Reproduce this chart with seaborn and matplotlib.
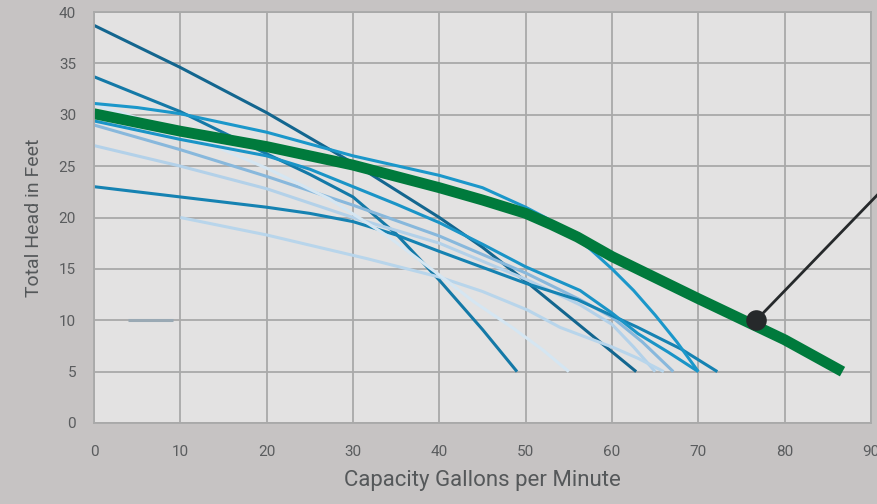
import numpy as np
import pandas as pd
import matplotlib
matplotlib.use("Agg")
import matplotlib.pyplot as plt
import seaborn as sns

# pump curves (gpm, feet of head)
a_x = [0, 10, 20, 30, 40, 45, 50, 56.7, 62.8]
a_y = [38.7, 34.6, 30.2, 25.3, 20.0, 17.1, 13.8, 9.2, 5]
b_x = [0, 10, 20, 25, 30, 35, 40, 45, 49]
b_y = [33.7, 30.3, 26.2, 24.2, 22.0, 18.4, 13.9, 9.1, 5]
c_x = [0, 5, 10, 20, 30, 40, 45, 50, 52.5, 55, 57.5, 60, 62.5, 65, 67.5, 70]
c_y = [31.1, 30.7, 30.1, 28.3, 26.0, 24.1, 22.9, 21.0, 19.9, 18.5, 16.9, 15.0,
       12.9, 10.5, 7.9, 5]
i_x = [0, 10, 20, 25, 30, 35, 40, 45, 50, 56.3, 60, 63, 66.5, 70]
i_y = [29.4, 27.6, 26.0, 24.7, 23.0, 21.3, 19.5, 17.4, 15.2, 12.9, 10.7, 8.7,
       6.9, 5]
e_x = [0, 10, 20, 27.3, 34, 40, 44, 48.6, 52, 55]
e_y = [31.0, 28.4, 24.8, 21.8, 18.2, 14.4, 11.8, 9.2, 7.1, 5]
f_x = [0, 10, 20, 30, 40, 50, 56.3, 60, 63.5, 67.1]
f_y = [29.0, 26.6, 24.0, 21.2, 18.2, 14.6, 12.0, 10.3, 7.9, 5]
j_x = [0, 10, 20, 30, 40, 50, 56.3, 60, 62.5, 65]
j_y = [27.0, 25.0, 22.8, 20.0, 17.5, 14.0, 11.5, 9.6, 7.4, 5]
g_x = [0, 10, 20, 25, 30, 35, 40, 50, 56, 63, 68, 72.2]
g_y = [23.0, 22.0, 21.0, 20.4, 19.6, 18.3, 16.7, 13.6, 12.0, 9.3, 7.2, 5]
h_x = [10, 20, 31.6, 40, 45, 50.2, 54, 60, 63, 66]
h_y = [20.0, 18.3, 16.0, 14.2, 12.8, 11.0, 9.3, 7.4, 6.3, 5]
short_x = [3.9, 9.2]
short_y = [10, 10]

green_x = [0, 10, 20, 30, 40, 45, 50, 53, 56, 60, 70, 80, 86.7]
green_y = [30.1, 28.4, 26.9, 25.1, 22.9, 21.7, 20.4, 19.3, 18.1, 16.2, 12.1,
           8.1, 5]

point_x = [76.7]
point_y = [10.0]

curves = {
    "A": (a_x, a_y, "#13668f"),
    "B": (b_x, b_y, "#1479a7"),
    "J": (j_x, j_y, "#b3d1e9"),
    "H": (h_x, h_y, "#b8d5eb"),
    "F": (f_x, f_y, "#88b8dc"),
    "G": (g_x, g_y, "#1582b2"),
    "E": (e_x, e_y, "#d5e6f2"),
    "I": (i_x, i_y, "#1a94c7"),
    "C": (c_x, c_y, "#1b97ca"),
    "S": (short_x, short_y, "#9aa9b4"),
}

rows = []
for name, (xs, ys, col) in curves.items():
    for x, y in zip(xs, ys):
        rows.append({"curve": name, "gpm": x, "head": y})
df = pd.DataFrame(rows)
pal = {k: v[2] for k, v in curves.items()}

sns.set_theme(style="whitegrid")
plt.rcParams["font.family"] = ["Roboto", "DejaVu Sans"]

fig = plt.figure(figsize=(8.78, 5.04), dpi=100, facecolor="#c6c3c3")
ax = fig.add_axes([94 / 878, 81 / 504, 777 / 878, 411 / 504])
ax.set_facecolor("#e3e2e2")

sns.lineplot(data=df, x="gpm", y="head", hue="curve", palette=pal,
             units="curve", estimator=None, sort=False, linewidth=2.2,
             legend=False, ax=ax)
for ln in ax.get_lines():
    ln.set_solid_capstyle("butt")
    ln.set_solid_joinstyle("round")

green = pd.DataFrame({"gpm": green_x, "head": green_y})
sns.lineplot(data=green, x="gpm", y="head", color="#007a3c", linewidth=7.8,
             sort=False, ax=ax)
ax.get_lines()[-1].set_solid_capstyle("butt")

# pointer from the highlighted curve
ax.plot([point_x[0], 93.5], [point_y[0], 24.6], color="#26292b", lw=2,
        clip_on=False, zorder=5)
sns.scatterplot(x=point_x, y=point_y, color="#26292b", s=220, ax=ax,
                zorder=6, linewidth=0)

ax.set_xlim(0, 90)
ax.set_ylim(0, 40)
ax.set_xticks(range(0, 91, 10))
ax.set_yticks(range(0, 41, 5))
ax.grid(True, color="#a9a9a9", linewidth=1.3)
for s in ax.spines.values():
    s.set_color("#a9a9a9")
    s.set_linewidth(1.3)
ax.tick_params(axis="both", colors="#a9a9a9", length=5, width=1.3,
               labelcolor="#5a5c5e", labelsize=11)
ax.tick_params(axis="x", pad=11)
ax.tick_params(axis="y", pad=8)
ax.set_xlabel("Capacity Gallons per Minute", color="#55585a", fontsize=16,
              labelpad=8)
ax.set_ylabel("Total Head in Feet", color="#55585a", fontsize=14,
              labelpad=11)

fig.savefig("out.png", dpi=100, facecolor=fig.get_facecolor())
